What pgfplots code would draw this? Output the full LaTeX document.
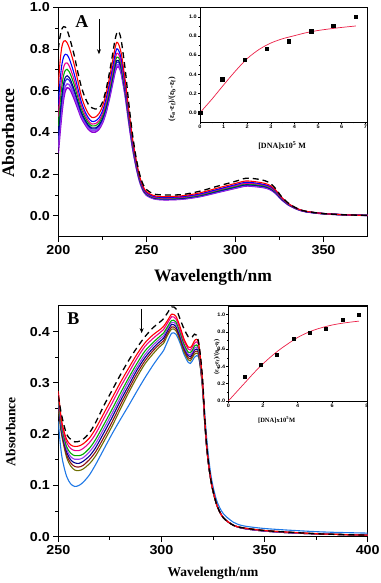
\documentclass[border=0pt]{standalone}
\usepackage{pgfplots}
\pgfplotsset{compat=1.18}
\usepackage{pgfplotstable}
\usetikzlibrary{arrows.meta}
\usepackage{fontspec}
\setmainfont{Liberation Serif}
\setsansfont{Liberation Sans}
\newfontfamily\tickfont[FakeStretch=1.1]{Liberation Sans}

\definecolor{cNavy}{RGB}{0,0,140}
\definecolor{cRoyal}{RGB}{40,40,220}
\definecolor{cViolet}{RGB}{150,60,240}
\definecolor{cPurple}{RGB}{140,0,210}
\definecolor{cGreen}{RGB}{0,170,0}
\definecolor{cDkRed}{RGB}{140,20,20}
\definecolor{cOlive}{RGB}{110,110,0}
\definecolor{cSky}{RGB}{30,120,230}
\definecolor{cFit}{RGB}{235,30,70}

% panel A: nm, then curves top to bottom, d = dashed (free compound)
\pgfplotstableread{
nm  r     b     m     g     n     k     v     p     d
200 0.62  0.534 0.476 0.431 0.386 0.364 0.329 0.30  0.80
201 0.74  0.648 0.587 0.539 0.492 0.468 0.431 0.40  0.86
202 0.81  0.724 0.666 0.621 0.576 0.554 0.519 0.49  0.895
203 0.837 0.762 0.712 0.674 0.635 0.615 0.585 0.56  0.907
204 0.84  0.775 0.732 0.698 0.665 0.648 0.622 0.60  0.905
205 0.83  0.772 0.733 0.703 0.672 0.657 0.633 0.614 0.89
206 0.81  0.757 0.721 0.693 0.665 0.652 0.63  0.612 0.865
207 0.785 0.735 0.702 0.676 0.65  0.637 0.617 0.60  0.835
209 0.725 0.68  0.651 0.628 0.605 0.593 0.575 0.56  0.77
211 0.65  0.614 0.589 0.57  0.551 0.542 0.527 0.515 0.69
213 0.575 0.547 0.528 0.513 0.498 0.491 0.479 0.47  0.62
215 0.525 0.502 0.487 0.475 0.463 0.457 0.448 0.44  0.57
217 0.49  0.47  0.456 0.446 0.435 0.43  0.422 0.415 0.535
219 0.472 0.453 0.44  0.431 0.421 0.416 0.408 0.402 0.518
221 0.474 0.455 0.442 0.432 0.421 0.416 0.408 0.402 0.512
223 0.49  0.47  0.456 0.446 0.435 0.43  0.422 0.415 0.516
225 0.525 0.503 0.489 0.478 0.467 0.461 0.452 0.445 0.545
227 0.585 0.561 0.545 0.532 0.519 0.513 0.503 0.495 0.605
229 0.665 0.638 0.62  0.606 0.592 0.585 0.574 0.565 0.69
231 0.755 0.725 0.706 0.69  0.675 0.667 0.655 0.645 0.79
232 0.80  0.769 0.748 0.732 0.716 0.708 0.695 0.685 0.84
233 0.832 0.80  0.778 0.761 0.744 0.736 0.723 0.712 0.875
234 0.825 0.795 0.776 0.76  0.745 0.737 0.725 0.715 0.885
235 0.80  0.773 0.755 0.741 0.727 0.72  0.709 0.70  0.865
236 0.76  0.734 0.717 0.704 0.691 0.684 0.674 0.665 0.82
238 0.64  0.62  0.606 0.596 0.585 0.58  0.572 0.565 0.69
240 0.50  0.484 0.473 0.465 0.456 0.452 0.445 0.44  0.53
242 0.37  0.358 0.35  0.343 0.337 0.334 0.329 0.325 0.39
244 0.27  0.261 0.254 0.249 0.244 0.242 0.238 0.235 0.28
246 0.19  0.183 0.179 0.175 0.172 0.17  0.167 0.165 0.20
248 0.14  0.135 0.131 0.128 0.125 0.124 0.122 0.12  0.15
250 0.115 0.11  0.107 0.105 0.103 0.101 0.10  0.098 0.125
254 0.097 0.093 0.09  0.088 0.086 0.085 0.083 0.082 0.105
260 0.092 0.088 0.085 0.083 0.081 0.08  0.078 0.077 0.10
270 0.096 0.092 0.089 0.087 0.084 0.083 0.081 0.08  0.102
280 0.11  0.105 0.102 0.099 0.097 0.096 0.094 0.092 0.118
290 0.133 0.127 0.124 0.121 0.118 0.116 0.114 0.112 0.142
300 0.155 0.149 0.145 0.141 0.138 0.137 0.134 0.132 0.165
306 0.167 0.161 0.156 0.153 0.149 0.148 0.145 0.143 0.18
312 0.163 0.157 0.153 0.149 0.146 0.145 0.142 0.14  0.177
317 0.155 0.149 0.146 0.143 0.14  0.138 0.136 0.134 0.168
320 0.145 0.14  0.136 0.133 0.13  0.129 0.127 0.125 0.155
323 0.123 0.119 0.116 0.114 0.111 0.11  0.108 0.107 0.13
326 0.092 0.089 0.087 0.085 0.083 0.082 0.081 0.08  0.095
330 0.06  0.058 0.057 0.056 0.055 0.054 0.054 0.053 0.062
335 0.035 0.034 0.034 0.033 0.033 0.033 0.032 0.032 0.036
340 0.022 0.021 0.021 0.021 0.02  0.02  0.02  0.02  0.022
350 0.011 0.011 0.011 0.01  0.01  0.01  0.01  0.01  0.011
362 0.005 0.005 0.005 0.005 0.005 0.005 0.005 0.005 0.005
375 0.002 0.002 0.002 0.002 0.002 0.002 0.002 0.002 0.002
}\specA

% panel B: u = lowest (sky blue) curve, d = dashed
\pgfplotstableread{
nm  r     m     g     v     n     k     o     u     d
250 0.284 0.279 0.272 0.268 0.264 0.259 0.255 0.225 0.275
251 0.245 0.240 0.233 0.229 0.224 0.22  0.215 0.18  0.25
252 0.218 0.213 0.207 0.203 0.198 0.194 0.19  0.15  0.23
254 0.19  0.184 0.176 0.171 0.166 0.16  0.155 0.118 0.20
256 0.179 0.172 0.163 0.156 0.15  0.144 0.138 0.103 0.19
258 0.176 0.168 0.158 0.151 0.144 0.137 0.13  0.098 0.185
260 0.177 0.168 0.158 0.151 0.143 0.136 0.129 0.10  0.186
262 0.181 0.172 0.161 0.154 0.147 0.139 0.132 0.106 0.19
265 0.192 0.183 0.172 0.165 0.157 0.15  0.142 0.12  0.202
268 0.21  0.20  0.189 0.181 0.173 0.165 0.157 0.14  0.222
272 0.24  0.23  0.218 0.21  0.202 0.193 0.185 0.17  0.255
276 0.27  0.26  0.248 0.24  0.232 0.223 0.215 0.20  0.285
280 0.30  0.291 0.279 0.271 0.264 0.256 0.248 0.228 0.315
284 0.328 0.319 0.309 0.302 0.294 0.287 0.28  0.255 0.343
288 0.355 0.347 0.337 0.33  0.324 0.317 0.31  0.283 0.368
292 0.378 0.371 0.362 0.355 0.349 0.343 0.337 0.31  0.39
296 0.394 0.387 0.379 0.374 0.368 0.363 0.357 0.335 0.408
299 0.403 0.397 0.39  0.385 0.38  0.375 0.37  0.352 0.418
301 0.41  0.404 0.397 0.392 0.387 0.382 0.377 0.363 0.425
303 0.422 0.417 0.41  0.406 0.402 0.397 0.393 0.381 0.437
305 0.434 0.429 0.422 0.418 0.414 0.409 0.405 0.397 0.448
307 0.43  0.425 0.419 0.415 0.41  0.406 0.402 0.395 0.445
309 0.41  0.405 0.399 0.395 0.391 0.387 0.383 0.378 0.425
311 0.385 0.381 0.375 0.371 0.368 0.364 0.36  0.355 0.405
313 0.37  0.366 0.36  0.356 0.353 0.349 0.345 0.34  0.39
314 0.369 0.364 0.359 0.355 0.351 0.347 0.343 0.338 0.388
315 0.374 0.37  0.364 0.36  0.357 0.353 0.349 0.343 0.39
316 0.382 0.377 0.372 0.368 0.364 0.36  0.356 0.35  0.395
317 0.385 0.38  0.374 0.37  0.366 0.362 0.358 0.353 0.393
318 0.378 0.374 0.368 0.365 0.361 0.358 0.354 0.35  0.38
319 0.345 0.341 0.337 0.334 0.331 0.328 0.325 0.328 0.35
320 0.30  0.297 0.294 0.292 0.29  0.287 0.285 0.295 0.305
321 0.23  0.228 0.226 0.225 0.223 0.222 0.22  0.24  0.232
322 0.175 0.174 0.173 0.172 0.172 0.171 0.17  0.19  0.176
323 0.138 0.137 0.137 0.136 0.136 0.135 0.135 0.15  0.138
324 0.11  0.11  0.109 0.109 0.109 0.108 0.108 0.12  0.11
325 0.09  0.09  0.089 0.089 0.089 0.088 0.088 0.098 0.09
327 0.06  0.06  0.06  0.06  0.06  0.06  0.06  0.068 0.06
330 0.037 0.037 0.037 0.037 0.037 0.037 0.037 0.045 0.037
335 0.022 0.022 0.022 0.022 0.022 0.022 0.022 0.028 0.022
340 0.017 0.017 0.017 0.016 0.016 0.016 0.016 0.021 0.017
350 0.012 0.012 0.012 0.011 0.011 0.011 0.011 0.016 0.012
365 0.008 0.008 0.008 0.007 0.007 0.007 0.007 0.012 0.008
380 0.005 0.005 0.005 0.005 0.005 0.005 0.005 0.009 0.005
400 0.003 0.003 0.003 0.003 0.003 0.003 0.003 0.007 0.003
}\specB

\pgfplotsset{
  mainax/.style={
    scale only axis, width=309.4pt,
    axis line style={line width=1pt},
    tick align=outside, xtick pos=left, ytick pos=left,
    major tick length=5pt, minor tick length=3pt,
    every tick/.style={black, line width=0.9pt},
    minor x tick num=1, minor y tick num=1,
    ticklabel style={font=\fontsize{13}{13}\selectfont\tickfont\bfseries},
    /pgf/number format/assume math mode=true,
    yticklabel style={/pgf/number format/.cd, fixed, fixed zerofill, precision=1},
    xticklabel style={/pgf/number format/.cd, fixed, precision=0},
  },
  spec/.style={line width=1.1pt, no marks},
  insetax/.style={
    scale only axis,
    axis line style={line width=0.6pt},
    tick align=outside, xtick pos=left, ytick pos=left,
    major tick length=2pt, minor tick length=1.2pt,
    every tick/.style={black, line width=0.5pt},
    minor x tick num=1, minor y tick num=1,
    ticklabel style={font=\fontsize{5}{5}\selectfont\tickfont\bfseries, inner sep=1pt},
    /pgf/number format/assume math mode=true,
    yticklabel style={/pgf/number format/.cd, fixed, fixed zerofill, precision=1},
  },
}

\begin{document}
\begin{tikzpicture}
\useasboundingbox (0pt,0pt) rectangle (380pt,583pt);

% ---------- panel A ----------
\begin{axis}[mainax, at={(58.3pt,346.3pt)}, anchor=south west, height=229.4pt,
  xmin=200, xmax=375, ymin=-0.1, ymax=1.0,
  xtick={200,250,300,350}, ytick={0,0.2,0.4,0.6,0.8,1.0},
  xlabel={Wavelength/nm}, ylabel={Absorbance},
  label style={font=\fontsize{17.5}{18}\selectfont\bfseries},
  xlabel style={at={(axis description cs:0.5,-0.176)}, anchor=center},
  ylabel style={at={(axis description cs:-0.162,0.452)}, anchor=center},
]
\addplot[spec, cPurple, line width=1.5pt, smooth] table[x=nm, y=p] {\specA};
\addplot[spec, cViolet, line width=1.4pt, smooth] table[x=nm, y=v] {\specA};
\addplot[spec, cRoyal, smooth] table[x=nm, y=k] {\specA};
\addplot[spec, cNavy, smooth] table[x=nm, y=n] {\specA};
\addplot[spec, cGreen, smooth] table[x=nm, y=g] {\specA};
\addplot[spec, magenta, smooth] table[x=nm, y=m] {\specA};
\addplot[spec, blue, smooth] table[x=nm, y=b] {\specA};
\addplot[spec, red, smooth] table[x=nm, y=r] {\specA};
\addplot[no marks, black, line width=1.3pt, dash pattern=on 6pt off 4pt, smooth] table[x=nm, y=d] {\specA};
\node[font=\fontsize{18}{18}\selectfont\bfseries] at (axis cs:213.3,0.93) {A};
\draw[-{Stealth[length=5pt,width=4pt]}, line width=0.7pt] (axis cs:223,0.945) -- (axis cs:223,0.775);
\end{axis}

\begin{axis}[insetax, at={(200pt,460.7pt)}, anchor=south west, width=167.7pt, height=115pt,
  xmin=0, xmax=7.1, ymin=-0.1, ymax=1.1,
  xtick={0,1,2,3,4,5,6,7}, ytick={0,0.2,0.4,0.6,0.8,1.0},
  xlabel={[DNA]x10\textsuperscript{5} M},
  ylabel={(ε\textsubscript{a}-ε\textsubscript{f})/(ε\textsubscript{b}-ε\textsubscript{f})},
  label style={font=\fontsize{8}{8}\selectfont\bfseries},
  xlabel style={at={(axis description cs:0.49,-0.2)}, anchor=center},
  ylabel style={at={(axis description cs:-0.167,0.2)}, anchor=center},
]
\addplot[cFit, line width=0.7pt, smooth, no marks] coordinates {
  (0,0) (0.5,0.14) (1,0.29) (1.5,0.435) (2,0.565) (2.5,0.66) (3,0.727) (3.5,0.772)
  (4,0.804) (4.5,0.835) (5,0.858) (5.5,0.875) (6,0.89) (6.6,0.905)};
\addplot[only marks, mark=square*, mark size=1.7pt, black] coordinates {
  (0,0) (0.94,0.35) (1.88,0.55) (2.82,0.67) (3.76,0.745) (4.7,0.85) (5.64,0.91) (6.58,1.0)};
\end{axis}

% ---------- panel B ----------
\begin{axis}[mainax, at={(58.3pt,46.3pt)}, anchor=south west, height=230.7pt,
  xmin=250, xmax=400, ymin=0, ymax=0.45,
  xtick={250,300,350,400}, ytick={0,0.1,0.2,0.3,0.4},
  xlabel={Wavelength/nm}, ylabel={Absorbance},
  label style={font=\fontsize{13.5}{14}\selectfont\bfseries},
  xlabel style={at={(axis description cs:0.5,-0.157)}, anchor=center},
  ylabel style={at={(axis description cs:-0.154,0.455)}, anchor=center},
]
\addplot[spec, cSky, smooth] table[x=nm, y=u] {\specB};
\addplot[spec, cOlive, smooth] table[x=nm, y=o] {\specB};
\addplot[spec, cDkRed, smooth] table[x=nm, y=k] {\specB};
\addplot[spec, cNavy, smooth] table[x=nm, y=n] {\specB};
\addplot[spec, cViolet, smooth] table[x=nm, y=v] {\specB};
\addplot[spec, cGreen, smooth] table[x=nm, y=g] {\specB};
\addplot[spec, magenta, smooth] table[x=nm, y=m] {\specB};
\addplot[spec, red, smooth] table[x=nm, y=r] {\specB};
\addplot[no marks, black, line width=1.3pt, dash pattern=on 6pt off 4pt, smooth] table[x=nm, y=d] {\specB};
\node[font=\fontsize{18}{18}\selectfont\bfseries] at (axis cs:257.3,0.425) {B};
\draw[-{Stealth[length=5pt,width=4pt]}, line width=0.7pt] (axis cs:290.4,0.445) -- (axis cs:290.4,0.397);
\end{axis}

\begin{axis}[insetax, at={(228.3pt,182pt)}, anchor=south west, width=139.4pt, height=95pt,
  xmin=0, xmax=8.05, ymin=0, ymax=1.1,
  xtick={0,2,4,6,8}, ytick={0,0.2,0.4,0.6,0.8,1.0},
  xlabel={[DNA]x10\textsuperscript{5}M},
  ylabel={(ε\textsubscript{a}-ε\textsubscript{f})/(ε\textsubscript{b}-ε\textsubscript{f})},
  label style={font=\fontsize{6.5}{7}\selectfont\bfseries},
  xlabel style={at={(axis description cs:0.347,-0.2)}, anchor=center},
  ylabel style={at={(axis description cs:-0.083,0.466)}, anchor=center},
]
\addplot[cFit, line width=0.7pt, smooth, no marks] coordinates {
  (0,0) (0.5,0.11) (1,0.22) (1.5,0.33) (2,0.43) (2.5,0.52) (3,0.6) (3.5,0.67)
  (4,0.735) (4.5,0.785) (5,0.825) (5.5,0.855) (6,0.88) (6.5,0.898) (7,0.912) (7.55,0.925)};
\addplot[only marks, mark=square*, mark size=1.5pt, black] coordinates {
  (0.94,0.283) (1.88,0.42) (2.82,0.54) (3.76,0.717) (4.7,0.795) (5.64,0.833) (6.58,0.946) (7.52,1.0)};
\end{axis}
\end{tikzpicture}
\end{document}
